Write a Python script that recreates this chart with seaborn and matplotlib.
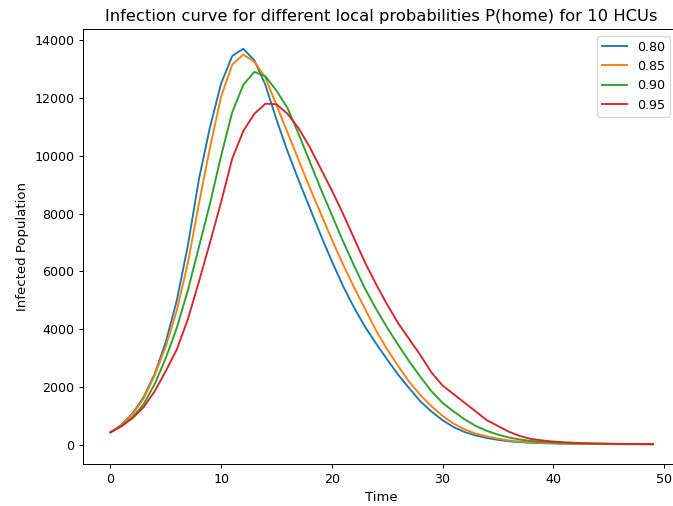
import numpy as np
import pandas as pd
import matplotlib
matplotlib.use("Agg")
import matplotlib.pyplot as plt
import seaborn as sns

time = list(range(50))
labels = ["0.80", "0.85", "0.90", "0.95"]

p080 = [430, 690, 1080, 1650, 2450, 3550, 5000, 6900, 9200, 11000,
        12500, 13450, 13700, 13300, 12450, 11250, 10150, 9150, 8200, 7250,
        6350, 5500, 4750, 4080, 3500, 2950, 2420, 1950, 1500, 1150,
        850, 610, 440, 320, 235, 170, 120, 90, 70, 55,
        45, 38, 32, 28, 25, 23, 21, 20, 19, 18]
p085 = [430, 680, 1050, 1600, 2400, 3400, 4650, 6300, 8350, 10300,
        12050, 13150, 13500, 13250, 12700, 11750, 10800, 9850, 8900, 8000,
        7100, 6250, 5450, 4700, 3950, 3300, 2720, 2170, 1720, 1330,
        1000, 730, 530, 385, 290, 210, 150, 110, 85, 65,
        52, 43, 36, 31, 27, 24, 22, 21, 20, 19]
p090 = [430, 650, 950, 1400, 2100, 3000, 4050, 5350, 6850, 8350,
        10000, 11500, 12450, 12900, 12750, 12250, 11650, 10750, 9800, 8850,
        7950, 7050, 6200, 5400, 4700, 4050, 3450, 2880, 2350, 1850,
        1450, 1150, 880, 650, 480, 350, 250, 180, 130, 100,
        78, 62, 50, 42, 36, 31, 28, 25, 23, 22]
p095 = [430, 640, 920, 1300, 1850, 2550, 3300, 4350, 5650, 7000,
        8400, 9900, 10850, 11450, 11800, 11780, 11450, 10950, 10300, 9550,
        8800, 8000, 7150, 6300, 5550, 4850, 4200, 3650, 3100, 2500,
        2050, 1750, 1450, 1150, 850, 650, 450, 300, 200, 150,
        110, 85, 65, 52, 43, 36, 31, 27, 24, 22]

series = [p080, p085, p090, p095]
df = pd.concat(
    [pd.DataFrame({"Time": time, "Infected": s, "P(home)": lab}) for lab, s in zip(labels, series)],
    ignore_index=True,
)

DPI = 91
fig = plt.figure(figsize=(673 / DPI, 506 / DPI), dpi=DPI)
ax = fig.add_axes([83.3 / 673, (506 - 464) / 506, (680 - 83.3) / 673, (464 - 29) / 506])

palette = ["#1f77b4", "#ff7f0e", "#2ca02c", "#d62728"]
sns.lineplot(data=df, x="Time", y="Infected", hue="P(home)", palette=palette,
             hue_order=labels, ax=ax, linewidth=1.5)

handles, labs = ax.get_legend_handles_labels()
ax.legend(handles, labs, loc="upper right", bbox_to_anchor=(670 / 673, 1 - 35.5 / 506),
          bbox_transform=fig.transFigure, borderaxespad=0)
ax.set_title("Infection curve for different local probabilities P(home) for 10 HCUs", fontsize=13)
ax.set_xlabel("Time", fontsize=10.5)
ax.set_ylabel("Infected Population", fontsize=10.5)
ax.spines["right"].set_visible(False)

fig.savefig("out.png", dpi=DPI)
